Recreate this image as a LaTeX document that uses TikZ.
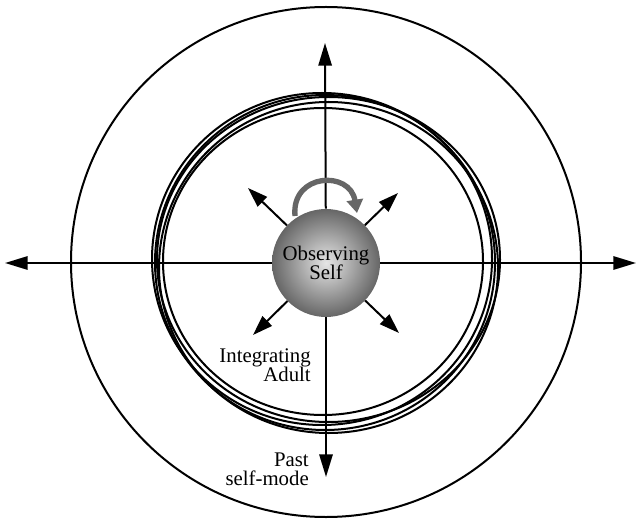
\documentclass[tikz,border=0pt]{standalone}
\usepackage{fontspec}
\setmainfont{Liberation Serif}
\usetikzlibrary{arrows.meta}
\begin{document}
\begin{tikzpicture}[x=0.75pt,y=0.75pt,
  ring/.style={line width=1.5pt},
  axisarrow/.style={line width=1.5pt,-{Triangle[length=17pt,width=10pt]}},
  diagarrow/.style={line width=1.5pt,-{Triangle[length=15pt,width=10pt]}},
  lbl/.style={font=\fontsize{15.6}{14.5}\selectfont,inner sep=0pt}
]
\useasboundingbox (0,0) rectangle (638,518);
% outer circle
\draw[ring] (326,256) circle [radius=255];
% inner circles
\draw[ring] (322,259) ellipse [x radius=170, y radius=166];
\draw[ring] (328.5,258.5) ellipse [x radius=171.5, y radius=162.5];
\draw[ring] (328.5,250.5) ellipse [x radius=169.5, y radius=165.5];
\draw[ring] (323,256.5) ellipse [x radius=160, y radius=153.5];
\draw[ring] (325,255.5) ellipse [x radius=170, y radius=167.5];
% sphere
\node (self) [circle, minimum size=81pt, inner sep=0pt, inner color=black!10, outer color=black!60,
  align=center, lbl] at (326,255) {Observing\\Self};
% endpoints
\coordinate (L) at (5,255);
\coordinate (R) at (636,255);
\coordinate (T) at (325,475);
\coordinate (B) at (326,41);
\coordinate (UL) at (248,330);
\coordinate (UR) at (398,325);
\coordinate (LL) at (253,183);
\coordinate (LR) at (399,185);
\draw[axisarrow] (self) -- (L);
\draw[axisarrow] (self) -- (R);
\draw[axisarrow] (self) -- (T);
\draw[axisarrow] (self) -- (B);
\draw[diagarrow] (self) -- (UL);
\draw[diagarrow] (self) -- (UR);
\draw[diagarrow] (self) -- (LL);
\draw[diagarrow] (self) -- (LR);
% curved self-observation arrow
\coordinate (cs) at (295,302);
\coordinate (ce) at (357,305);
\draw[line width=4pt, black!60, -{Triangle[length=10pt,width=12pt]}]
  (cs) .. controls (291,345) and (350,348) .. (ce);
% labels
\node (ia) [lbl, anchor=east, align=right] at (311,153) {Integrating\\Adult};
\node (psm) [lbl, anchor=east, align=right] at (309,49) {Past\\self-mode};
\end{tikzpicture}
\end{document}
